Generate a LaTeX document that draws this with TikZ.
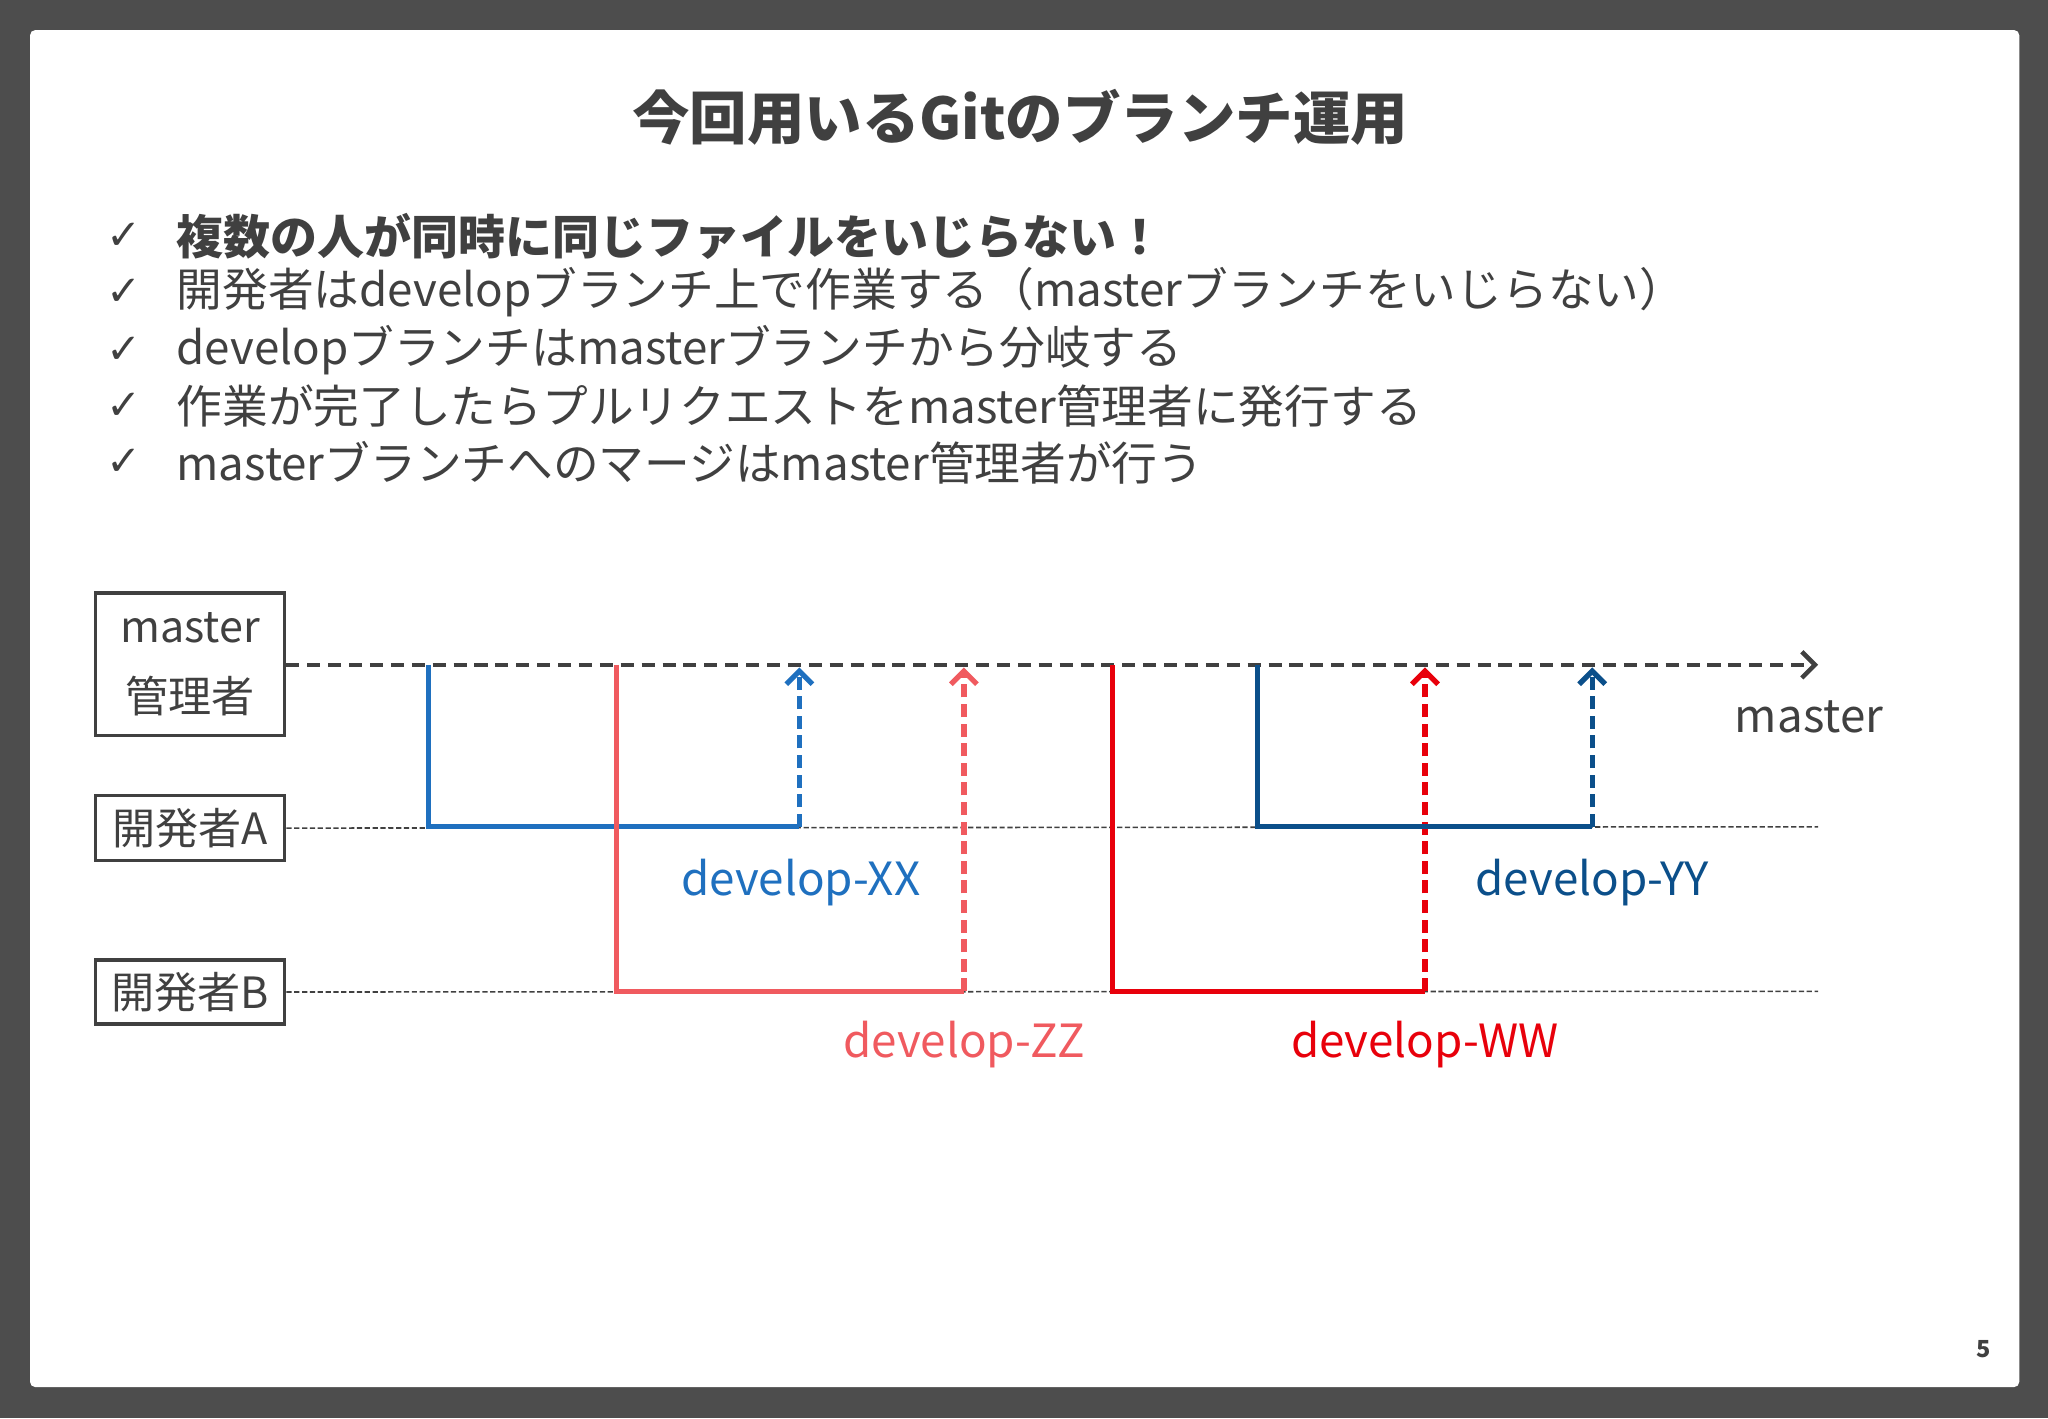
\documentclass[tikz,border=0pt]{standalone}
\usepackage{fontspec}
\setmainfont{Noto Sans CJK JP}
\newfontfamily\chk{DejaVu Sans}
\usetikzlibrary{arrows.meta}
\definecolor{txt}{HTML}{404040}
\definecolor{cxx}{HTML}{1F70BF}
\definecolor{czz}{HTML}{F05A5F}
\definecolor{cww}{HTML}{E8000B}
\definecolor{cyy}{HTML}{0B4F8A}
\tikzset{
 role/.style={draw=txt,line width=2.5pt,inner sep=0pt,text=txt,font=\fontsize{33}{38}\selectfont},
 br/.style={line width=4pt},
 mg/.style={line width=4pt,dashed,dash pattern=on 10pt off 5pt,-{Straight Barb[length=10pt,width=20pt,line width=4pt]}},
 lane/.style={draw=txt,line width=1.2pt,dash pattern=on 4pt off 2pt},
 lbl/.style={font=\fontsize{35}{40}\selectfont},
 bul/.style={anchor=west,text=txt,font=\fontsize{35}{40}\selectfont,inner sep=0pt},
}
\begin{document}
\begin{tikzpicture}[x=1pt,y=-1pt]
\fill[fill={rgb,255:red,77;green,77;blue,77}] (0,0) rectangle (1568,1086);
\fill[white,rounded corners=4pt] (23,23) rectangle (1546,1062);
\node[text=txt,font=\fontsize{44}{50}\selectfont\bfseries] (title) at (781,90) {今回用いるGitのブランチ運用};
\foreach \y/\n in {181/a,224/b,268/c,311/d,354/e}{\node[text=txt,font=\chk\fontsize{32}{36}\selectfont] (ck\n) at (95,\y) {✓};}
\node[bul,font=\fontsize{36}{40}\selectfont\bfseries] (b1) at (135,181) {複数の人が同時に同じファイルをいじらない！};
\node[bul] (b2) at (135,224) {開発者はdevelopブランチ上で作業する（masterブランチをいじらない）};
\node[bul] (b3) at (135,268) {developブランチはmasterブランチから分岐する};
\node[bul] (b4) at (135,311) {作業が完了したらプルリクエストをmaster管理者に発行する};
\node[bul] (b5) at (135,354) {masterブランチへのマージはmaster管理者が行う};
\node[role,minimum width=145pt,minimum height=109pt,align=center] (m) at (145.5,508.5) {master\\[16pt]管理者};
\node[role,minimum width=145pt,minimum height=50pt] (a) at (145.5,634) {開発者A};
\node[role,minimum width=145pt,minimum height=49pt] (b) at (145.5,759.5) {開発者B};
\coordinate (mend) at (1392,509);
\coordinate (aend) at (1392,633);
\coordinate (bend) at (1392,759);
\draw[lane] (a.east) -- (aend);
\draw[lane] (b.east) -- (bend);
\draw[txt,line width=3.5pt,dashed,dash pattern=on 10pt off 6pt,-{Straight Barb[length=10pt,width=20pt,line width=3.5pt]}] (m.east |- mend) -- (mend);
\node[text=txt,lbl] (ml) at (1385,549) {master};
\coordinate (x1) at (328,509); \coordinate (x2) at (328,633); \coordinate (x3) at (612,633); \coordinate (x4) at (612,511);
\draw[cxx,br] (x1) -- (x2) -- (x3);
\draw[cxx,mg] (x3) -- (x4);
\node[text=cxx,lbl] (xl) at (613,676) {develop-XX};
\coordinate (z1) at (472,509); \coordinate (z2) at (472,759); \coordinate (z3) at (738,759); \coordinate (z4) at (738,511);
\draw[czz,br] (z1) -- (z2) -- (z3);
\draw[czz,mg] (z3) -- (z4);
\node[text=czz,lbl] (zl) at (738,800) {develop-ZZ};
\coordinate (w1) at (852,509); \coordinate (w2) at (852,759); \coordinate (w3) at (1091,759); \coordinate (w4) at (1091,511);
\draw[cww,br] (w1) -- (w2) -- (w3);
\draw[cww,mg] (w3) -- (w4);
\node[text=cww,lbl] (wl) at (1091,800) {develop-WW};
\coordinate (y1) at (963,509); \coordinate (y2) at (963,633); \coordinate (y3) at (1219,633); \coordinate (y4) at (1219,511);
\draw[cyy,br] (y1) -- (y2) -- (y3);
\draw[cyy,mg] (y3) -- (y4);
\node[text=cyy,lbl] (yl) at (1219,676) {develop-YY};
\node[text=txt,font=\fontsize{18}{20}\selectfont\bfseries] (pg) at (1519,1033) {5};
\end{tikzpicture}
\end{document}
